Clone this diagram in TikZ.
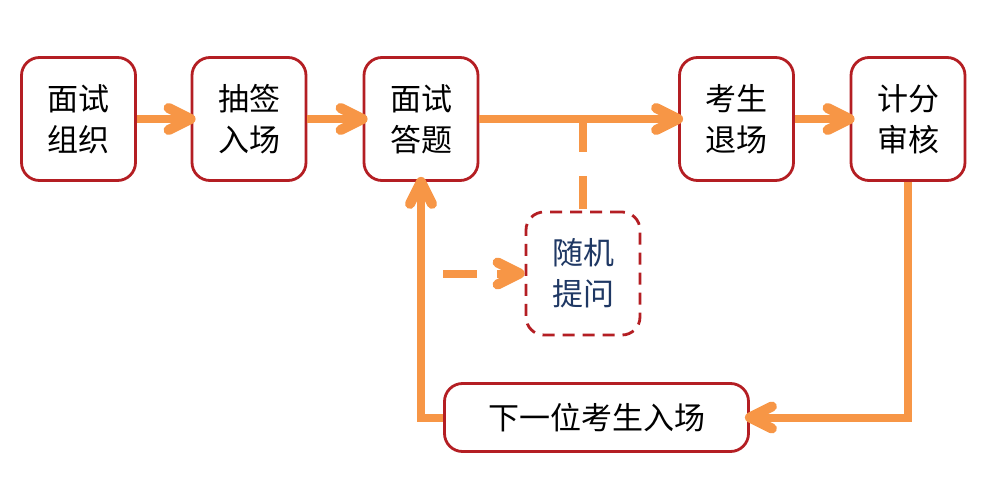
\documentclass[tikz,border=0pt]{standalone}
\usepackage{fontspec}
\newfontfamily\cjk{Noto Sans CJK SC}
\usetikzlibrary{arrows.meta}
\definecolor{boxred}{HTML}{B41E23}
\definecolor{arrorange}{HTML}{F79646}
\definecolor{navytext}{HTML}{1F3864}
\begin{document}
\begin{tikzpicture}[x=1pt,y=-1pt,
  stepbox/.style={draw=boxred, line width=2.8pt, rounded corners=18pt, fill=white,
    minimum width=114pt, minimum height=123pt, inner sep=0pt, align=center,
    font=\cjk\fontsize{31}{41}\selectfont},
  askbox/.style={stepbox, dash pattern=on 12pt off 8pt, text=navytext},
  flow/.style={draw=arrorange, line width=8pt, -{Straight Barb[length=22pt,width=22pt,line width=10pt,round]}, shorten >=-5pt},
  dashline/.style={draw=arrorange, line width=8pt, dash pattern=on 33pt off 24pt},
]
\useasboundingbox[fill=white] (0,0) rectangle (1004,484);
\node[stepbox] (a) at (78.5,119) {面试\\组织};
\node[stepbox] (b) at (249,119) {抽签\\入场};
\node[stepbox] (c) at (421,119) {面试\\答题};
\node[stepbox] (d) at (736.5,119) {考生\\退场};
\node[stepbox] (e) at (908,119) {计分\\审核};
\node[askbox] (q) at (583,273.5) {随机\\提问};
\node[stepbox, minimum width=304pt, minimum height=68pt] (f) at (596.5,417.5) {下一位考生入场};
\coordinate (j) at (q.north |- c.east);
\coordinate (s) at (443,273.5);
\draw[flow] (a.east) -- (b.west);
\draw[flow] (b.east) -- (c.west);
\draw[flow] (c.east) -- (d.west);
\draw[flow] (d.east) -- (e.west);
\draw[dashline] (j) -- (q.north);
\draw[flow] (e.south) |- (f.east);
\draw[flow] (f.west) -| (c.south);
\draw[flow, dash pattern=on 34pt off 20pt, shorten >=0pt] (s) -- (q.west);
\end{tikzpicture}
\end{document}
